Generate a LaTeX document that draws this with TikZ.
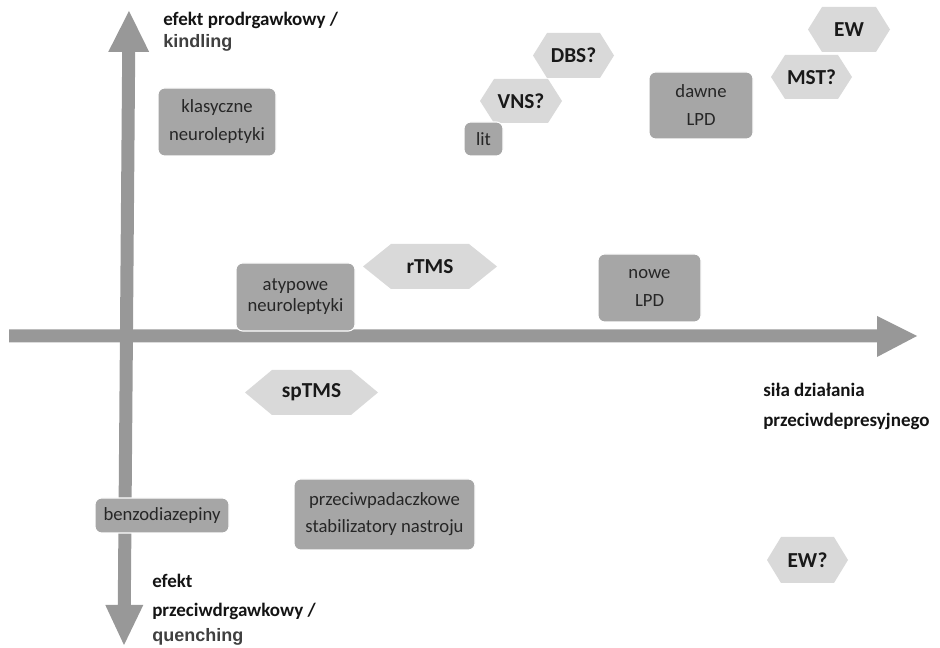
\documentclass[tikz,border=0pt]{standalone}
\usepackage{fontspec}
\setmainfont{Carlito}
\newfontfamily\arialfont{Liberation Sans}
\definecolor{axisgray}{HTML}{989898}
\definecolor{boxgray}{HTML}{A6A6A6}
\definecolor{hexgray}{HTML}{D9D9D9}
\definecolor{boxtext}{HTML}{262626}
\definecolor{labgray}{HTML}{404040}
\newcommand\pxu{0.75pt}
\tikzset{
  boxnode/.style={rectangle, rounded corners=5pt, fill=boxgray, draw=white, line width=0.8pt,
    inner sep=0pt, align=center, text=boxtext, font=\fontsize{14}{21}\selectfont},
  hexcol/.style={fill=hexgray},
  hextext/.style={inner sep=0pt, text=black!90, font=\fontsize{16}{19}\selectfont\bfseries},
  axislabel/.style={anchor=base west, inner sep=0pt, text=black!92, font=\fontsize{14.25}{17}\selectfont\bfseries},
  axislabelar/.style={anchor=base west, inner sep=0pt, text=labgray, font=\fontsize{13.5}{16}\selectfont\arialfont\bfseries},
}
\newcommand\hexa[7]{%
  \fill[hexcol] (#2-#4/2,#3) -- (#2-#4/2+#6,#3-#5/2) -- (#2+#4/2-#6,#3-#5/2) -- (#2+#4/2,#3)
     -- (#2+#4/2-#6,#3+#5/2) -- (#2-#4/2+#6,#3+#5/2) -- cycle;
  \node[hextext] (#1) at (#2,#3) {#7};}
\begin{document}
\begin{tikzpicture}[x=0.75pt,y=-0.75pt]
\useasboundingbox (0,0) rectangle (940,648);
% horizontal axis
\fill[axisgray] (9,329.5) -- (877,329.5) -- (877,316) -- (917,336) -- (877,357) -- (877,342.5) -- (9,342.5) -- cycle;
% vertical axis (double headed)
\fill[axisgray] (129,11) -- (149.2,52) -- (135.2,52) -- (130.8,605) -- (143.3,605) -- (124,645)
   -- (105.3,605) -- (117.8,605) -- (122.2,52) -- (108.2,52) -- cycle;
% boxes
\node[boxnode, minimum width=118*\pxu, minimum height=68*\pxu] (klas) at (217,122) {klasyczne\\neuroleptyki};
\node[boxnode, minimum width=104*\pxu, minimum height=67*\pxu] (dawne) at (701,105.5) {dawne\\LPD};
\node[boxnode, minimum width=119*\pxu, minimum height=68*\pxu, font=\fontsize{14}{15.75}\selectfont] (atyp) at (295.5,297) {atypowe\\neuroleptyki};
\node[boxnode, minimum width=103*\pxu, minimum height=68*\pxu] (nowe) at (649.5,288) {nowe\\LPD};
\node[boxnode, minimum width=181*\pxu, minimum height=71*\pxu, font=\fontsize{14}{20.25}\selectfont] (padacz) at (384.5,514.5) {przeciwpadaczkowe\\stabilizatory nastroju};
% hexagons
\hexa{dbs}{573.5}{55.5}{81}{45}{14}{DBS?}
\hexa{vns}{521}{101}{82}{44}{14}{VNS?}
\hexa{ew}{849}{29.5}{82}{45}{14}{EW}
\hexa{mst}{811.5}{77}{81}{44}{14}{MST?}
\hexa{rtms}{430}{266.5}{134}{45}{28}{rTMS}
\hexa{sptms}{311.5}{392.5}{133}{45}{27}{spTMS}
\hexa{ewq}{807.5}{560}{81}{46}{14}{EW?}
\node[boxnode, minimum width=39*\pxu, minimum height=34*\pxu] (lit) at (483.5,139) {lit};
\node[boxnode, minimum width=134*\pxu, minimum height=35*\pxu] (benzo) at (162,515.5) {benzodiazepiny};
% axis labels
\node[axislabel] (lt1) at (163,26) {efekt prodrgawkowy /};
\node[axislabelar] (lt2) at (163,48) {kindling};
\node[axislabel] (lb1) at (152,588) {efekt};
\node[axislabel] (lb2) at (152,617) {przeciwdrgawkowy /};
\node[axislabelar] (lb3) at (152,642) {quenching};
\node[axislabel] (lr1) at (763,397) {siła działania};
\node[axislabel] (lr2) at (763,427) {przeciwdepresyjnego};
\end{tikzpicture}
\end{document}
